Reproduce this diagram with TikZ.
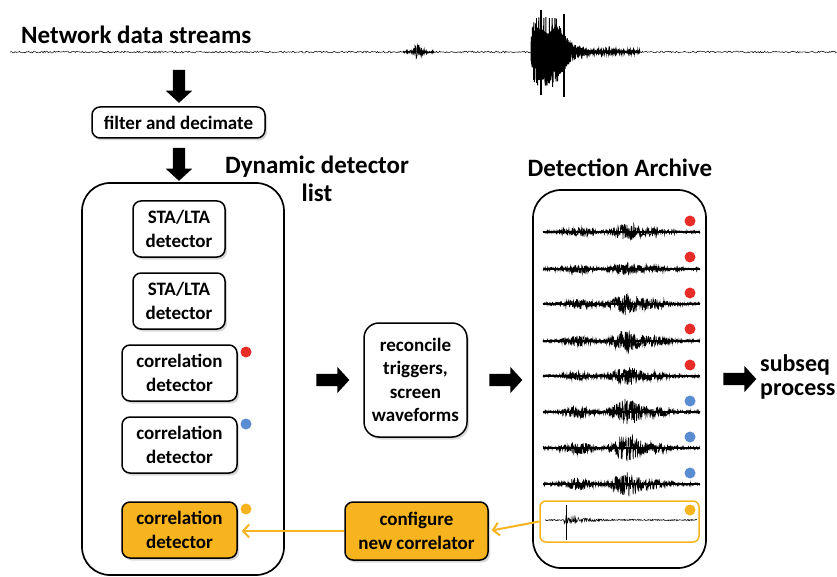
\documentclass[tikz,border=0pt]{standalone}
\usepackage{fontspec}
\setmainfont{Carlito}
\usetikzlibrary{shapes.arrows,shadows,arrows.meta}
\definecolor{gold}{RGB}{247,180,30}
\definecolor{dotred}{RGB}{232,45,40}
\definecolor{dotblue}{RGB}{90,140,210}
\tikzset{
  shad/.style={drop shadow={opacity=0.3,shadow xshift=2pt,shadow yshift=-2.5pt,fill=gray}},
  panel/.style={draw, line width=1.7pt, rounded corners=28pt, fill=white},
  box/.style={draw, line width=1.5pt, rounded corners=8pt, fill=white, shad, align=center, font=\bfseries\fontsize{19}{23.5}\selectfont, inner sep=0pt},
  obox/.style={box, fill=gold},
  title/.style={font=\bfseries\fontsize{25}{28}\selectfont, inner sep=0pt, align=center},
  barrow/.style={single arrow, fill=black, draw=none, inner xsep=0pt, inner ysep=6pt, single arrow head extend=7pt, minimum height=33pt, single arrow tip angle=95},
  wave/.style={line width=0.7pt, black},
  oline/.style={draw=gold, line width=2pt, -{Straight Barb[length=6pt,width=13pt,line width=2pt]}},
}
\newcommand\arctrace[4]{%
  \pgfmathsetseed{#4}%
  \draw[line width=1.1pt] (543,#1) -- (700,#1);
  \draw[wave] plot[domain=543:700, samples=480] (\x, {#1 + (1.3 + #2*exp(-((\x-578)/13)^2) + #3*exp(-((\x-627)/15)^2) + 0.35*#3*exp(-((\x-655)/14)^2))*rand});
}
\begin{document}
\begin{tikzpicture}[x=1pt, y=-1pt]
\useasboundingbox (0,0) rectangle (837,577);

% top stream
\node[title, anchor=west] (net) at (21,35) {Network data streams};
\pgfmathsetseed{7}
\draw[wave, line width=0.5pt] plot[domain=10:837, samples=800] (\x, {52 + 0.9*rand});
\draw[wave] plot[domain=403:434, samples=100] (\x, {52 + (1 + 7*exp(-((\x-418)/5)^2))*rand});
\draw[wave, line width=1pt] plot[domain=531:640, samples=700] (\x, {52 + (1 + 34*exp(-max(\x-557,0)/11)*(1-exp(-(\x-530)/2)))*rand});
\fill[black] (533,42) -- (540,28) -- (548,34) -- (556,26) -- (562,34) -- (570,46) -- (570,60) -- (560,74) -- (550,70) -- (543,80) -- (534,66) -- cycle;
\draw[wave, line width=1.2pt] (541,10) -- (541,95);
\draw[wave, line width=1.2pt] (564,14) -- (564,97);
\draw[wave, line width=1pt] (536,18) -- (536,80);

% left side
\node[barrow, rotate=-90] (a1) at (179,83.5) {};
\node[box, minimum width=173pt, minimum height=31pt] (filt) at (178.5,122.5) {filter and decimate};
\node[barrow, rotate=-90] (a2) at (179,161.5) {};
\node[title] (dyn) at (317,179) {Dynamic detector\\list};

\node[panel, minimum width=202pt, minimum height=392pt] (pl) at (183,379) {};
\node[box, minimum width=92pt, minimum height=56pt] (sta1) at (179,229) {STA/LTA\\detector};
\node[box, minimum width=92pt, minimum height=56pt] (sta2) at (179,301) {STA/LTA\\detector};
\node[box, minimum width=115pt, minimum height=56pt] (cd1) at (179.5,373) {correlation\\detector};
\node[box, minimum width=115pt, minimum height=56pt] (cd2) at (179.5,445) {correlation\\detector};
\node[obox, minimum width=115pt, minimum height=56pt] (cd3) at (179.5,530) {correlation\\detector};
\fill[dotred] (246,352) circle (5.5pt);
\fill[dotblue] (246,424) circle (5.5pt);
\fill[gold] (246,509) circle (5.5pt);

% middle
\node[barrow] (a3) at (330,380) {};
\node[box, rounded corners=15pt, minimum width=103pt, minimum height=114pt] (rec) at (415.5,380) {reconcile\\triggers,\\screen\\waveforms};
\node[barrow] (a4) at (503,380) {};
\node[obox, minimum width=143pt, minimum height=58pt] (cfg) at (416.5,531) {configure\\new correlator};

% archive
\node[title] (arch) at (620,168) {Detection Archive};
\node[panel, minimum width=173pt, minimum height=378pt] (pr) at (619.5,379) {};
\arctrace{232}{3}{7}{11}
\arctrace{269}{3}{5}{12}
\arctrace{304}{4}{10}{13}
\arctrace{341}{4}{10}{14}
\arctrace{376}{3}{8}{15}
\arctrace{412}{5}{12}{16}
\arctrace{448}{5}{12}{17}
\arctrace{484}{5}{11}{18}
\foreach \yy in {221,257,293,329,365} \fill[dotred] (690,\yy) circle (5.5pt);
\foreach \yy in {401,437,473} \fill[dotblue] (690,\yy) circle (5.5pt);
\node[draw=gold, line width=1.5pt, rounded corners=6pt, minimum width=159pt, minimum height=41pt] (hl) at (619.5,521.5) {};
\pgfmathsetseed{21}
\draw[wave, line width=0.5pt] plot[domain=545:697, samples=350] (\x, {520 + (0.6 + 4*exp(-max(\x-566,0)/18)*(\x>564))*rand});
\draw[wave, line width=0.9pt] (566,505) -- (566,540);
\fill[gold] (690,510) circle (5.5pt);

\node[barrow] (a5) at (737,379) {};
\node[title, anchor=north west, align=left, font=\bfseries\fontsize{24}{24}\selectfont] (sub) at (760,354) {subseq\\process};

% feedback connectors
\draw[oline, shorten >=3pt] (hl.west) -- (cfg.east);
\draw[oline, shorten >=4pt] (cfg.west) -- (cd3.east |- cfg.west);
\end{tikzpicture}
\end{document}
